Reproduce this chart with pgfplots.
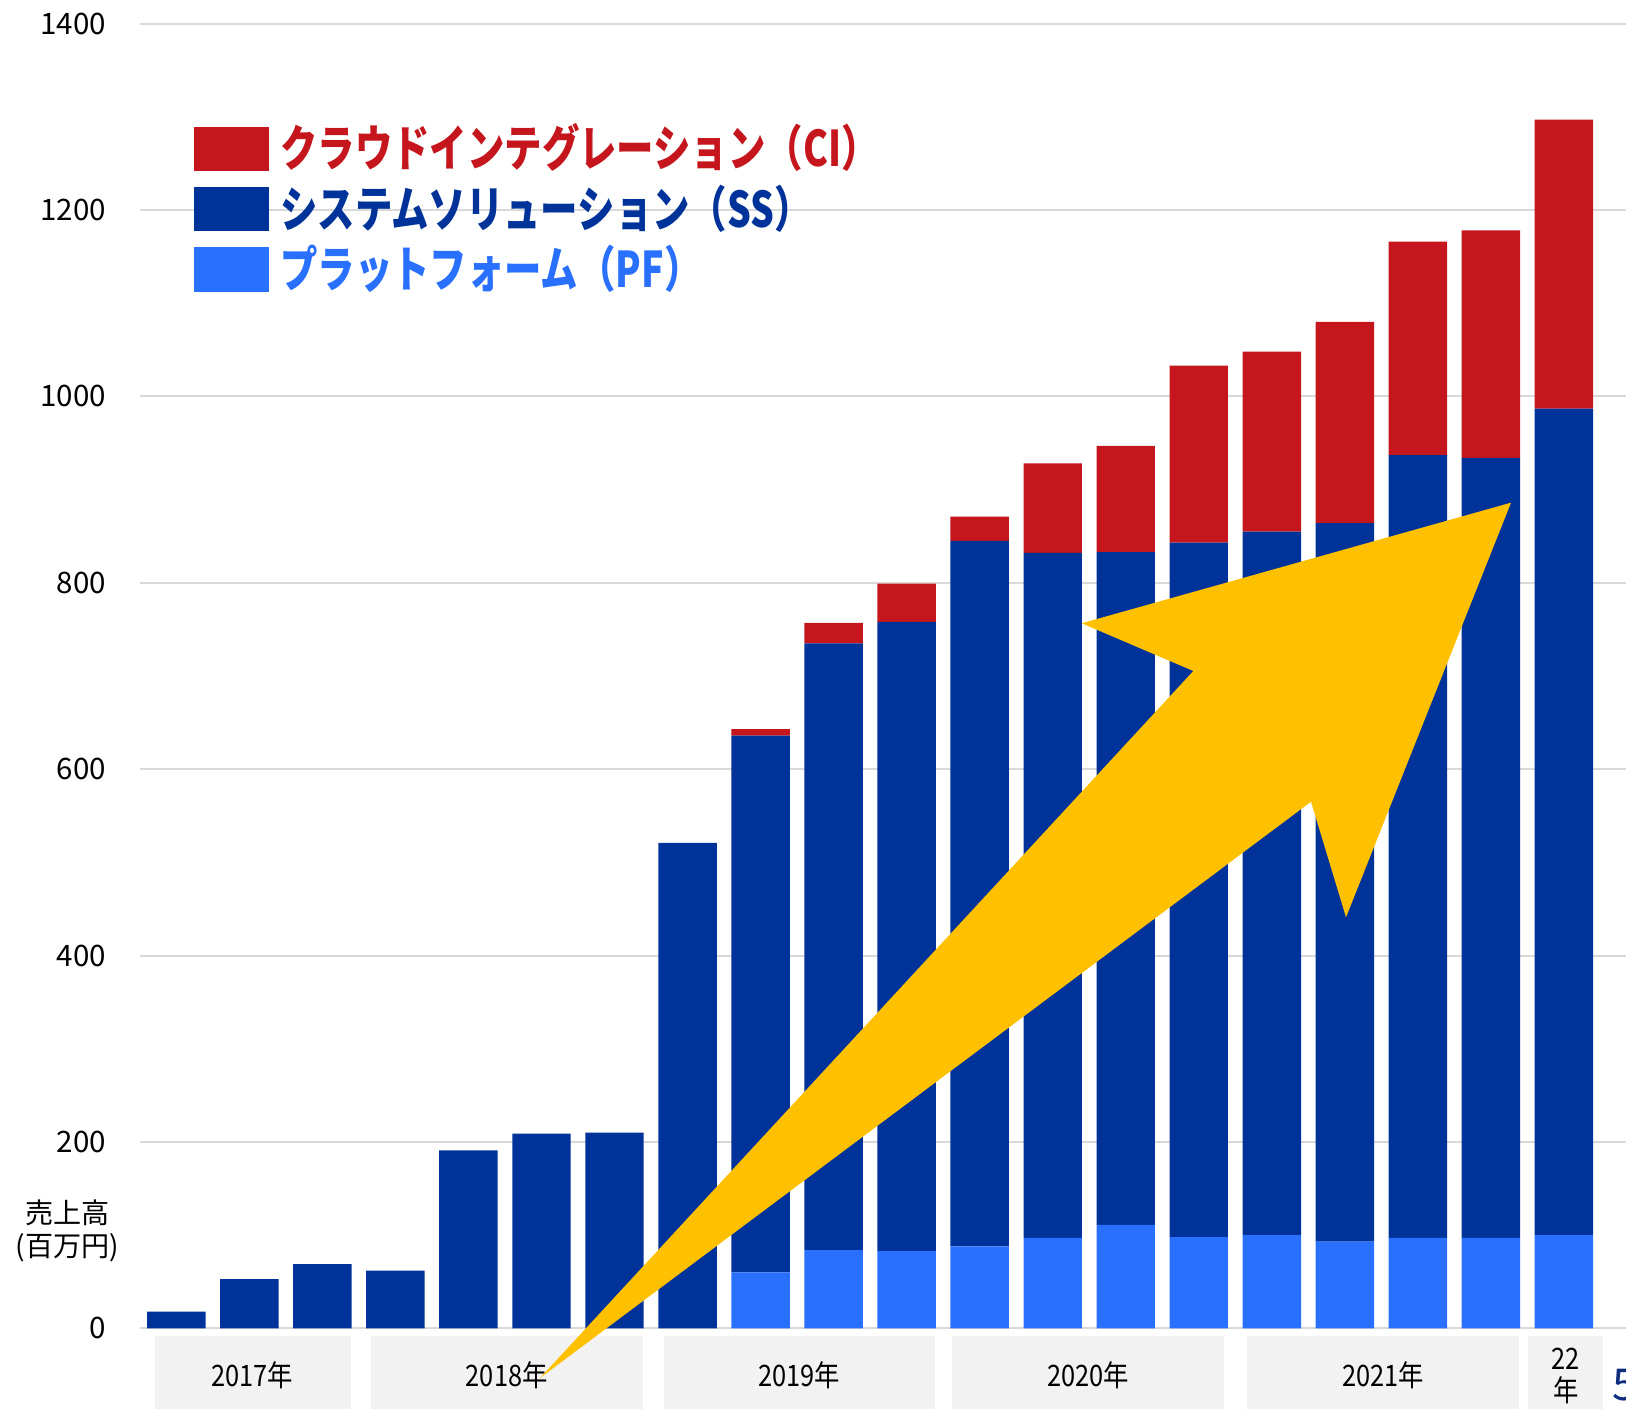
\documentclass[border=0pt]{standalone}
\usepackage{fontspec}
\setmainfont{Noto Sans CJK JP}
\newfontfamily\legfont[FakeStretch=0.76]{Noto Sans CJK JP}
\newfontfamily\condfont[FakeStretch=0.86]{Noto Sans CJK JP}
\usepackage{pgfplots}
\pgfplotsset{compat=1.18}
\definecolor{ci}{HTML}{C4161C}
\definecolor{ss}{HTML}{003399}
\definecolor{pf}{HTML}{2970FF}
\definecolor{arr}{HTML}{FFC000}
\definecolor{gridc}{HTML}{D9D9D9}
\definecolor{boxc}{HTML}{F2F2F2}
\definecolor{navy}{HTML}{0F2D80}
\begin{document}
\begin{tikzpicture}
\path[use as bounding box] (0,0) rectangle (16.26,14.09);
% year boxes (below the axis)
\fill[boxc] (1.545,0) rectangle (3.505,0.73);
\fill[boxc] (3.705,0) rectangle (6.429,0.73);
\fill[boxc] (6.637,0) rectangle (9.350,0.73);
\fill[boxc] (9.518,0) rectangle (12.244,0.73);
\fill[boxc] (12.474,0) rectangle (15.193,0.73);
\fill[boxc] (15.280,0) rectangle (16.033,0.73);
\begin{axis}[
  at={(1.398cm,0.806cm)}, anchor=south west,
  scale only axis, width=14.862cm, height=13.048cm,
  ybar stacked, bar width=0.80,
  xmin=-0.5, xmax=19.85, ymin=0, ymax=1400,
  ytick={0,200,...,1400}, xtick=\empty,
  ymajorgrids, grid style={gridc, line width=0.6pt},
  axis line style={draw=none}, major tick length=0pt,
  yticklabel style={font=\fontsize{8.4}{9}\selectfont, anchor=east, inner sep=0pt, xshift=-0.33cm},
  /pgf/number format/assume math mode=true, /pgf/number format/1000 sep={},
  clip=false,
  every axis plot/.append style={draw=none, legend image code/.code={\fill[##1] (0cm,-0.223cm) rectangle (0.75cm,0.223cm);}},
  legend style={at={(0.0364,0.9224)}, anchor=north west, draw=none, fill=none,
    inner sep=0pt, outer sep=0pt, row sep=0.122cm, column sep=0.114cm,
    font=\legfont\bfseries\fontsize{14}{16}\selectfont,
    nodes={inner sep=0pt, text height=0.42cm, text depth=0.06cm}},
  legend cell align=left, reverse legend,
]
\addplot[fill=pf] coordinates {
 (0,0) (1,0) (2,0) (3,0) (4,0) (5,0) (6,0) (7,0) (8,60) (9,84) (10,83) (11,88) (12,97) (13,111) (14,98) (15,100) (16,93) (17,97) (18,97) (19,100)};
\addlegendentry{\textcolor{pf}{プラットフォーム（PF）}}
\addplot[fill=ss] coordinates {
 (0,18) (1,53) (2,69) (3,62) (4,191) (5,209) (6,210) (7,521) (8,576) (9,651) (10,675) (11,757) (12,735) (13,722) (14,745) (15,755) (16,771) (17,840) (18,837) (19,887)};
\addlegendentry{\textcolor{ss}{システムソリューション（SS）}}
\addplot[fill=ci] coordinates {
 (0,0) (1,0) (2,0) (3,0) (4,0) (5,0) (6,0) (7,0) (8,7) (9,22) (10,41) (11,26) (12,96) (13,114) (14,190) (15,193) (16,216) (17,229) (18,244) (19,310)};
\addlegendentry{\textcolor{ci}{クラウドインテグレーション（CI）}}
\end{axis}
% year labels
\begin{scope}[every node/.style={font=\condfont\fontsize{8.4}{9}\selectfont, inner sep=0pt}]
\node at (2.525,0.34) {2017年};
\node at (5.067,0.34) {2018年};
\node at (7.994,0.34) {2019年};
\node at (10.881,0.34) {2020年};
\node at (13.834,0.34) {2021年};
\node at (15.657,0.507) {22};
\node at (15.657,0.19) {年};
\end{scope}
% arrow on top
\fill[arr] (5.400,0.31) -- (11.933,7.38) -- (10.817,7.857) -- (15.110,9.063) -- (13.460,4.917) -- (13.110,6.073) -- cycle;
\node[font=\fontsize{8}{9}\selectfont, inner sep=0pt] at (0.674,1.957) {売上高};
\node[font=\fontsize{8}{9}\selectfont, inner sep=0pt] at (0.674,1.615) {(百万円)};
\node[anchor=base west, inner sep=0pt, text=navy, font=\fontsize{12.5}{13}\selectfont] at (16.12,0.09) {5};
\end{tikzpicture}
\end{document}
